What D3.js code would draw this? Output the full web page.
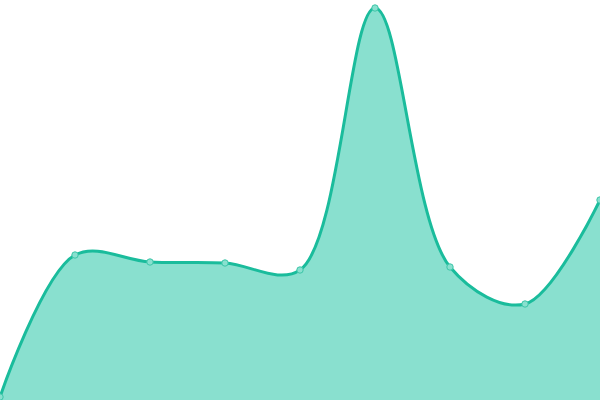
<!DOCTYPE html>
<html><head><meta charset="utf-8">
<script src="https://cdn.jsdelivr.net/npm/d3@7"></script>
<style>html,body{margin:0;padding:0;background:#fff;overflow:hidden}</style>
</head><body>
<svg id="c" width="600" height="400"></svg>
<script>
const categories = [0,1,2,3,4,5,6,7,8];
const values = [3, 145, 138, 137, 130, 392, 133, 96, 200];

const W = 600, H = 400;
const svg = d3.select("#c");
const x = d3.scaleLinear().domain([0, categories.length - 1]).range([0, W]);
const y = d3.scaleLinear().domain([0, 400]).range([H, 0]);
const data = categories.map((c, i) => ({c, v: values[i]}));

const curve = d3.curveCatmullRom;
svg.append("path").datum(data)
  .attr("d", d3.area().x(d => x(d.c)).y0(H).y1(d => y(d.v)).curve(curve))
  .attr("fill", "#89e0cf");
svg.append("path").datum(data)
  .attr("d", d3.line().x(d => x(d.c)).y(d => y(d.v)).curve(curve))
  .attr("fill", "none").attr("stroke", "#1abc9c").attr("stroke-width", 3);
svg.selectAll("circle").data(data).join("circle")
  .attr("cx", d => x(d.c)).attr("cy", d => y(d.v)).attr("r", 3.2)
  .attr("fill", "#89e0cf").attr("stroke", "#3cc6a8").attr("stroke-width", 1);
</script>
</body></html>
